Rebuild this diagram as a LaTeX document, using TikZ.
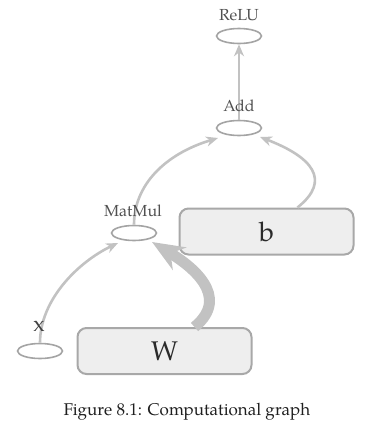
\documentclass[tikz,border=0pt]{standalone}
\usepackage{fontspec}
\setmainfont{TeX Gyre Pagella}
\usetikzlibrary{shapes.geometric,arrows.meta}

\definecolor{opline}{HTML}{A4A4A4}
\definecolor{edgecol}{HTML}{C2C2C2}
\definecolor{boxline}{HTML}{A8A8A8}
\definecolor{boxfill}{HTML}{EEEEEE}
\definecolor{lblcol}{HTML}{505050}
\definecolor{varcol}{HTML}{2A2A2A}

\tikzset{
  opnode/.style={ellipse, draw=opline, line width=1.6pt, fill=white,
    minimum width=45pt, minimum height=15pt, inner sep=0pt},
  varbox/.style={rectangle, rounded corners=9pt, draw=boxline, fill=boxfill,
    line width=2pt, minimum width=174pt, minimum height=46pt,
    font=\fontsize{27}{29}\selectfont, text=varcol},
  oplabel/.style={font=\fontsize{16}{18}\selectfont, text=lblcol, inner sep=0pt},
  flow/.style={draw=edgecol, line width=2.6pt, -{Stealth[length=12pt,width=10pt]}},
  heavyflow/.style={draw=edgecol, line width=11pt, -{Stealth[length=32pt,width=26pt]}},
}

\begin{document}
\begin{tikzpicture}[x=1pt, y=-1pt]
  \useasboundingbox (0,0) rectangle (371,426);

  % operation nodes
  \node[opnode] (relu)   at (239,36)  {};
  \node[opnode] (add)    at (239,128) {};
  \node[opnode] (matmul) at (134,233) {};
  \node[opnode] (xin)    at (40,351)  {};

  % variables
  \node[varbox] (b) at (266.5,231.5) {b};
  \node[varbox] (W) at (164.5,351)   {W};

  % data flow
  \draw[heavyflow] ([xshift=30pt]W.north) .. controls (232,296) and (190,265) .. (152,242);
  \draw[flow] (xin.north) .. controls (40,300) and (78,262) .. (118,243);
  \draw[flow] (matmul.north) .. controls (134,185) and (165,154) .. (218,138);
  \draw[flow] ([xshift=31pt]b.north) .. controls (332,180) and (312,157) .. (260,137);
  \draw[flow] (add.north) -- (relu.south);

  % operation names
  \node[oplabel] (relulbl)   at (239,15)  {ReLU};
  \node[oplabel] (addlbl)    at (239,106) {Add};
  \node[oplabel] (matmullbl) at (133,211) {MatMul};
  \node[oplabel, font=\fontsize{22}{24}\selectfont, text=black!75] (xlbl) at (39,326) {x};

  % caption
  \node[font=\fontsize{17}{20}\selectfont, text=black!88] (caption) at (187,412)
    {Figure 8.1: Computational graph};
\end{tikzpicture}
\end{document}
